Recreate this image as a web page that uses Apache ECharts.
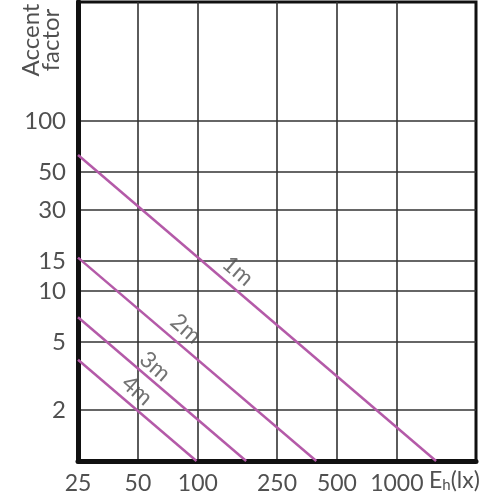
<!DOCTYPE html>
<html>
<head>
<meta charset="utf-8">
<script src="https://cdn.jsdelivr.net/npm/echarts@6/dist/echarts.min.js"></script>
<style>
  html, body { margin: 0; padding: 0; background: #fff; }
  #chart { width: 500px; height: 500px; }
</style>
</head>
<body>
<div id="chart"></div>
<script>
// illuminance ticks (lx) and accent factor ticks
const xTicks = [25, 50, 100, 250, 500, 1000]
const yTicks = [2, 5, 10, 15, 30, 50, 100]

// each distance line: [lx, factor] end points
const line1m = [[25, 63], [1575, 1]]
const line2m = [[25, 15.7], [394, 1]]
const line3m = [[25, 7], [175, 1]]
const line4m = [[25, 3.94], [98.5, 1]]

// where the small line labels sit
const lineNames = ['1m', '2m', '3m', '4m']
const labelAt = [[159, 13.1], [87, 6.0], [61, 3.6], [49.5, 2.6]]

const LINE_COLOR = '#b45aa8'
const GRID_COLOR = '#333'
const TEXT_COLOR = '#505050'
const FONT = 'Lato, "Open Sans", sans-serif'

const chart = echarts.init(document.getElementById('chart'))

const lineSeries = [line1m, line2m, line3m, line4m].map((d, i) => ({
  name: lineNames[i],
  type: 'line',
  data: d,
  symbol: 'none',
  lineStyle: { color: LINE_COLOR, width: 2.5 },
  z: 3,
}))

chart.setOption({
  animation: false,
  grid: {
    left: 78, right: 24, top: 2, bottom: 39,
    show: true, borderColor: '#111', borderWidth: 3,
  },
  xAxis: {
    type: 'log',
    min: 25,
    max: 2500,
    axisLine: { show: true, lineStyle: { color: '#111', width: 5 } },
    axisTick: { show: false, customValues: xTicks },
    axisLabel: {
      customValues: xTicks,
      color: TEXT_COLOR, fontSize: 23, fontFamily: FONT, margin: 11,
      formatter: (v) => String(Math.round(v)),
    },
    splitLine: { show: true, lineStyle: { color: GRID_COLOR, width: 1.6 } },
  },
  yAxis: {
    type: 'log',
    min: 1,
    max: 500,
    axisLine: { show: true, lineStyle: { color: '#111', width: 5 } },
    axisTick: { show: false, customValues: yTicks },
    axisLabel: {
      customValues: yTicks,
      color: TEXT_COLOR, fontSize: 24, fontFamily: FONT, margin: 12,
      formatter: (v) => String(Math.round(v)),
    },
    splitLine: { show: true, lineStyle: { color: GRID_COLOR, width: 1.6 } },
  },
  series: [
    ...lineSeries,
    {
      type: 'scatter',
      symbolSize: 0,
      data: labelAt.map((p, i) => ({ value: p, name: lineNames[i] })),
      label: {
        show: true,
        position: 'inside',
        formatter: (p) => p.name,
        rotate: -41,
        color: TEXT_COLOR,
        fontSize: 23,
        fontFamily: FONT,
      },
      z: 4,
    },
  ],
  graphic: [
    {
      type: 'text',
      x: 41, y: 40,
      rotation: Math.PI / 2,
      style: {
        text: 'Accent\nfactor',
        fill: TEXT_COLOR,
        font: '24px ' + FONT,
        align: 'center',
        verticalAlign: 'middle',
        lineHeight: 20,
      },
    },
    {
      type: 'text',
      left: 429, top: 469,
      style: {
        text: '{a|E}{b|h}{a|(lx)}',
        rich: {
          a: { fontSize: 23, fontFamily: FONT, fill: TEXT_COLOR },
          b: { fontSize: 15, fontFamily: FONT, fill: TEXT_COLOR, padding: [10, 0, 0, 0] },
        },
      },
    },
  ],
})
</script>
</body>
</html>
